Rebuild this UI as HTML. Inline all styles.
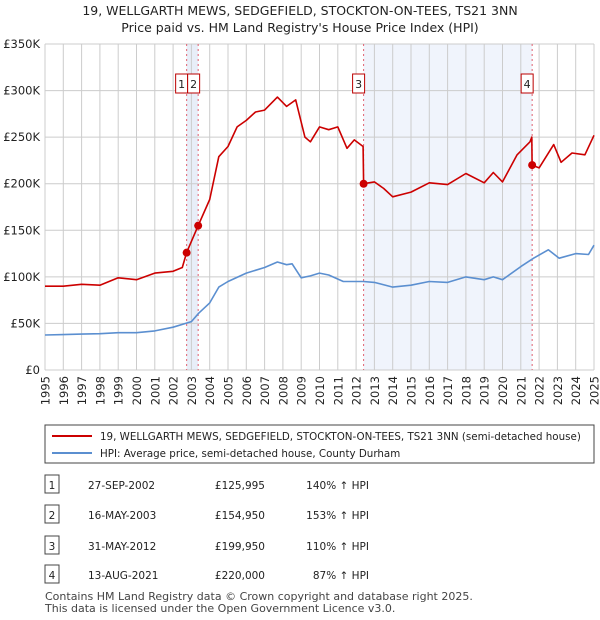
<!DOCTYPE html>
<html><head><meta charset="utf-8"><style>
body{margin:0;background:#fff;font-family:"Liberation Sans","DejaVu Sans",sans-serif;}
#wrap{position:relative;width:600px;height:620px;}
</style></head><body>
<div id="wrap">
<svg id="svg" width="600" height="620" xmlns="http://www.w3.org/2000/svg" style="position:absolute;left:0;top:0;font-family:'DejaVu Sans','Liberation Sans',sans-serif">
<text x="300" y="15" text-anchor="middle" font-size="12.5" fill="#222">19, WELLGARTH MEWS, SEDGEFIELD, STOCKTON-ON-TEES, TS21 3NN</text>
<text x="300" y="32" text-anchor="middle" font-size="12.5" fill="#222">Price paid vs. HM Land Registry's House Price Index (HPI)</text>
<g id="plot"></g>
<rect x="45" y="425" width="549" height="38" fill="#fff" stroke="#444"/>
<line x1="52" y1="436" x2="92" y2="436" stroke="#cc0000" stroke-width="2"/>
<text x="100" y="440" font-size="10.3" fill="#222">19, WELLGARTH MEWS, SEDGEFIELD, STOCKTON-ON-TEES, TS21 3NN (semi-detached house)</text>
<line x1="52" y1="453" x2="92" y2="453" stroke="#5b8fd0" stroke-width="2"/>
<text x="100" y="457" font-size="10.3" fill="#222">HPI: Average price, semi-detached house, County Durham</text>
<g id="table" font-size="10.5" fill="#222"></g>
<text x="45" y="600" font-size="11" fill="#444">Contains HM Land Registry data © Crown copyright and database right 2025.</text>
<text x="45" y="612" font-size="11" fill="#444">This data is licensed under the Open Government Licence v3.0.</text>
</svg>
</div>
<script>
const hpiYears=[1995,1996,1997,1998,1999,2000,2001,2002,2003,2003.4,2004,2004.5,2005,2006,2007,2007.7,2008.2,2008.5,2009,2009.5,2010,2010.5,2011.3,2012.4,2013,2014,2015,2016,2017,2018,2019,2019.5,2020,2021,2021.7,2022.5,2023.1,2024,2024.7,2025];
const hpiValues=[37.6,38,38.5,39,40,40,42,46,52,61,72,89,95,104,110,116,113,114,99,101,104,102,95,95,94,89,91,95,94,100,97,100,97,111,120,129,120,125,124,134];
const ppYears=[1995,1996,1997,1998,1999,2000,2001,2002,2002.5,2002.74,2003.37,2004,2004.5,2005,2005.5,2006,2006.5,2007,2007.7,2008.2,2008.7,2009.2,2009.5,2010,2010.5,2011,2011.5,2011.9,2012.38,2012.41,2013,2013.5,2014,2015,2016,2017,2018,2019,2019.5,2020,2020.8,2021.5,2021.6,2021.62,2022,2022.8,2023.2,2023.8,2024.5,2025];
const ppValues=[90,90,92,91,99,97,104,106,110,126,155,183,229,240,261,268,277,279,293,283,290,250,245,261,258,261,238,247,240,200,202,195,186,191,201,199,211,201,212,202,231,245,250,220,217,242,223,233,231,252];
const saleLabels=["1","2","3","4"];
const saleYears=[2002.74,2003.37,2012.41,2021.62];
const saleValues=[125.995,154.95,199.95,220];
const saleDates=["27-SEP-2002","16-MAY-2003","31-MAY-2012","13-AUG-2021"];
const salePrices=["£125,995","£154,950","£199,950","£220,000"];
const saleHpi=["140% ↑ HPI","153% ↑ HPI","110% ↑ HPI","87% ↑ HPI"];
const yTicks=[0,50,100,150,200,250,300,350];
const yTickLabels=["£0","£50K","£100K","£150K","£200K","£250K","£300K","£350K"];
const xTicks=[1995,1996,1997,1998,1999,2000,2001,2002,2003,2004,2005,2006,2007,2008,2009,2010,2011,2012,2013,2014,2015,2016,2017,2018,2019,2020,2021,2022,2023,2024,2025];

const X0=45,X1=594,Y0=370,Y1=44;
const sx=y=>X0+(y-1995)/30*(X1-X0);
const sy=v=>Y0-v/350*(Y0-Y1);
const NS="http://www.w3.org/2000/svg";
const plot=document.getElementById('plot');
function mk(tag,attrs,parent){const e=document.createElementNS(NS,tag);for(const k in attrs)e.setAttribute(k,attrs[k]);(parent||plot).appendChild(e);return e;}
let e;
e=mk('rect',{x:sx(saleYears[0]),y:Y1,width:sx(saleYears[1])-sx(saleYears[0]),height:Y0-Y1,fill:'#e8eef8'});


e=mk('rect',{x:sx(saleYears[2]),y:Y1,width:sx(saleYears[3])-sx(saleYears[2]),height:Y0-Y1,fill:'#f0f4fc'});


xTicks.forEach((t,i)=>{
  e=mk('line',{x1:sx(t),x2:sx(t),y1:Y1,y2:Y0,stroke:'#ccc'});
  
  
  const tx=sx(t)+4.5, ty=Y0+6;
  e=mk('text',{x:tx,y:ty,'text-anchor':'end','font-size':'11.5',fill:'#222',transform:`rotate(-90 ${tx} ${ty})`});
  e.textContent=t;
  
  
});
yTicks.forEach((t,i)=>{
  e=mk('line',{x1:X0,x2:X1,y1:sy(t),y2:sy(t),stroke:'#ccc'});
  
  
  e=mk('text',{x:X0-5,y:sy(t)+4,'text-anchor':'end','font-size':'11.5',fill:'#222'});
  e.textContent=yTickLabels[i];
  
  
});
saleYears.forEach((y,i)=>{
  e=mk('line',{x1:sx(y),x2:sx(y),y1:Y1,y2:Y0,stroke:'#e06070','stroke-dasharray':'2,3'});
  
  
});
function path(xs,vs,col,name){
  const d=xs.map((x,i)=>(i?'L':'M')+sx(x).toFixed(1)+','+sy(vs[i]).toFixed(1)).join('');
  const p=mk('path',{d:d,fill:'none',stroke:col,'stroke-width':1.6,'stroke-linejoin':'round'});
  
  
}
path(hpiYears,hpiValues,'#5b8fd0','hpi-line');
path(ppYears,ppValues,'#cc0000','price-paid-line');
let prevRight=-1;
saleYears.forEach((y,i)=>{
  e=mk('circle',{cx:sx(y),cy:sy(saleValues[i]),r:4,fill:'#cc0000'});
  
  
  let bx=sx(y)-11;
  if(bx<prevRight) bx=prevRight;
  prevRight=bx+12;
  e=mk('rect',{x:bx,y:74,width:12,height:19,fill:'#fff',stroke:'#b00'});
  
  
  e=mk('text',{x:bx+6,y:88,'text-anchor':'middle','font-size':'11',fill:'#222'});
  e.textContent=saleLabels[i];
  
  
});
const tbl=document.getElementById('table');
const rowY=[485,515,546,575];
saleLabels.forEach((l,i)=>{
  e=mk('rect',{x:45,y:rowY[i]-10,width:14,height:18,fill:'#fff',stroke:'#444'},tbl);
  
  
  e=mk('text',{x:52,y:rowY[i]+4,'text-anchor':'middle'},tbl);e.textContent=l;
  
  
  e=mk('text',{x:88,y:rowY[i]+4},tbl);e.textContent=saleDates[i];
  
  
  e=mk('text',{x:265,y:rowY[i]+4,'text-anchor':'end'},tbl);e.textContent=salePrices[i];
  
  
  e=mk('text',{x:369,y:rowY[i]+4,'text-anchor':'end'},tbl);e.textContent=saleHpi[i];
  
  
});
</script>
</body></html>
